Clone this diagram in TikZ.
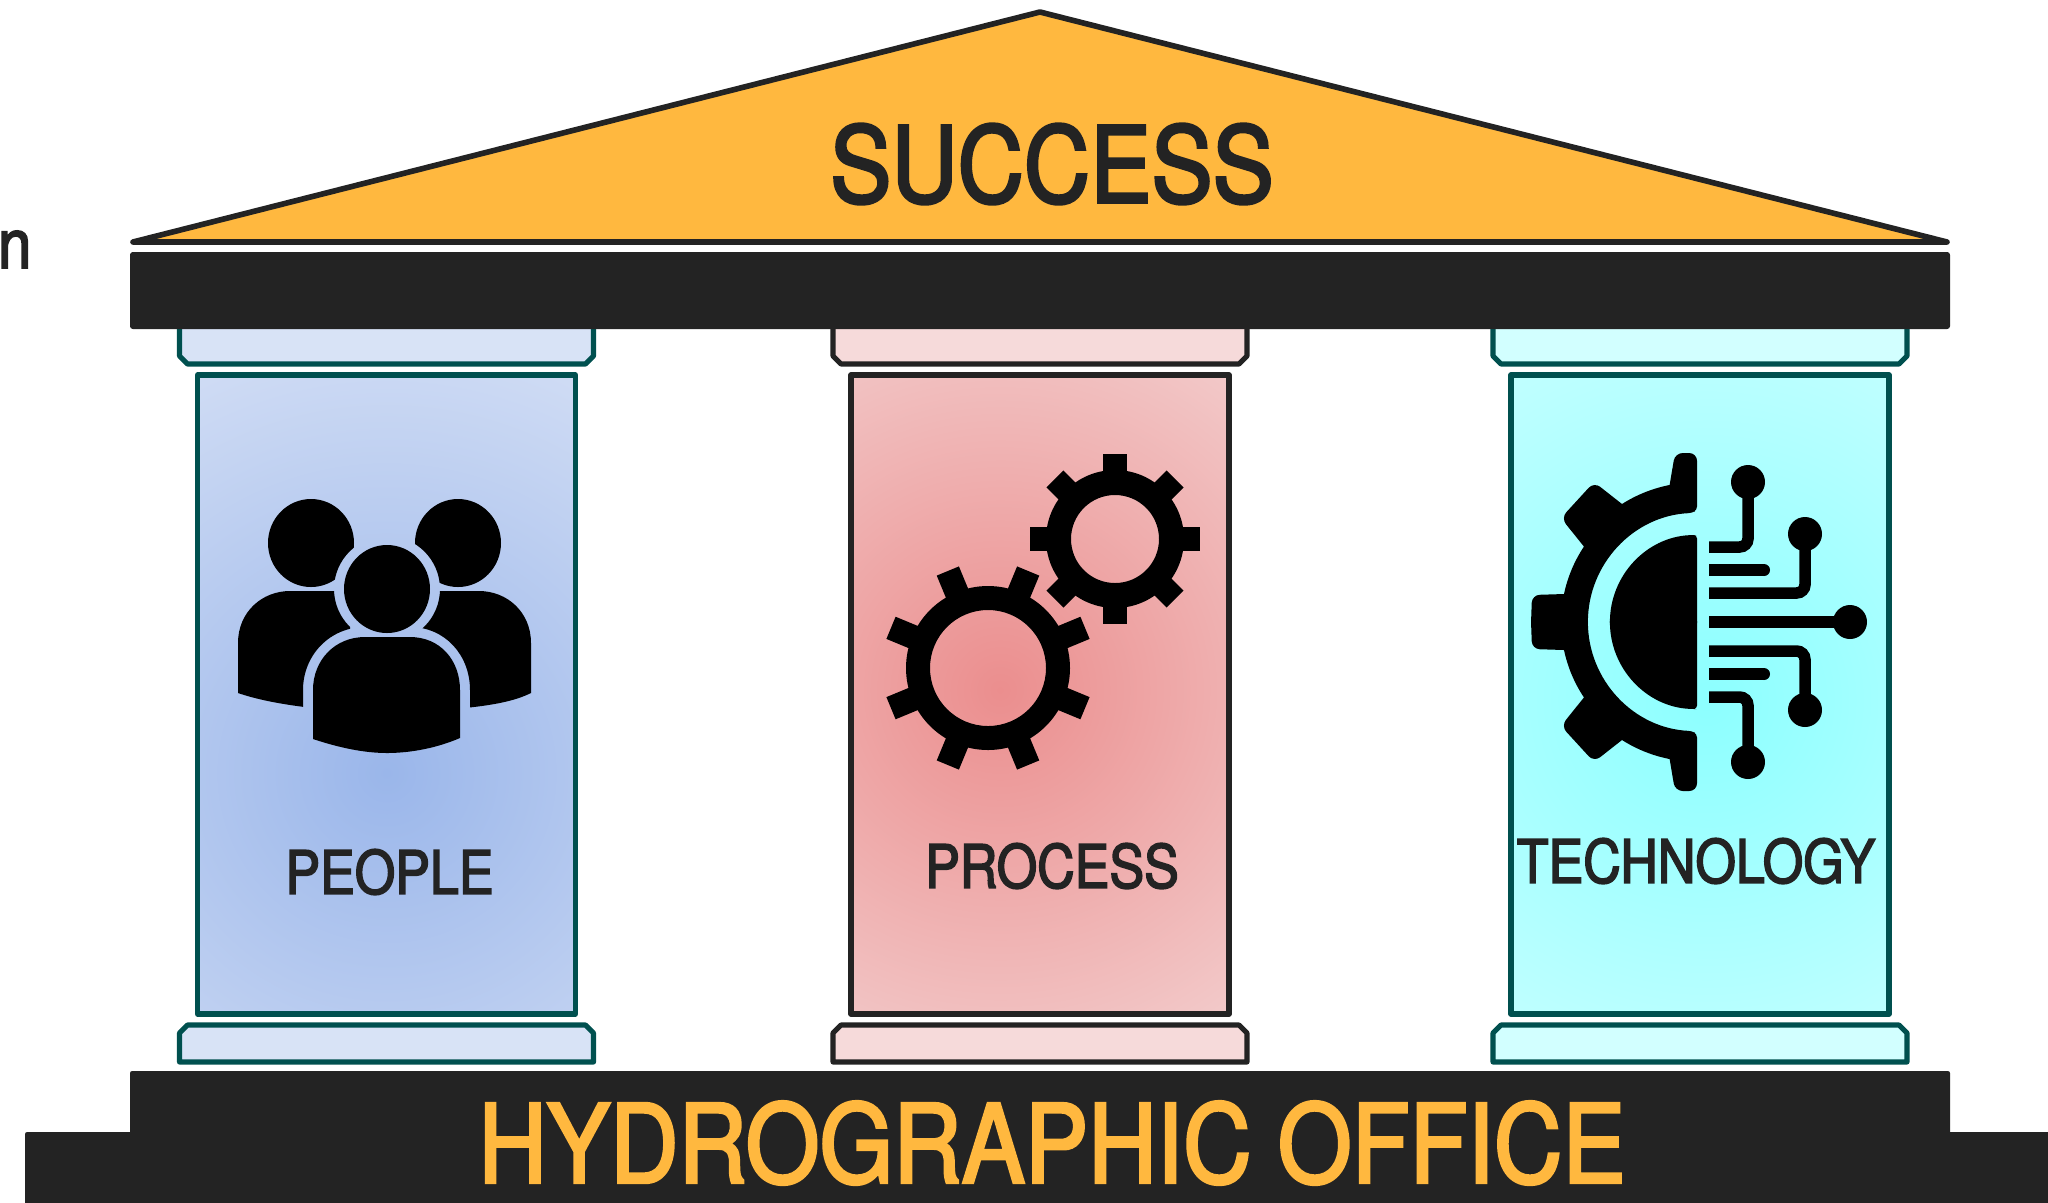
\documentclass[tikz,border=0pt]{standalone}
\usepackage{fontspec}
\setsansfont{TeX Gyre Heros}[FakeStretch=.87, FakeBold=2.6]
\usepackage{tikz}

\definecolor{inkdark}{HTML}{232323}
\definecolor{roofamber}{HTML}{FFB83F}
\definecolor{pillarteal}{HTML}{00504F}
\definecolor{peoplecap}{HTML}{D8E3F6}
\definecolor{processcap}{HTML}{F6DADA}
\definecolor{techcap}{HTML}{D2FFFF}
\definecolor{peopleinner}{RGB}{154,182,234}
\definecolor{peopleouter}{RGB}{212,223,245}
\definecolor{processinner}{RGB}{235,142,142}
\definecolor{processouter}{RGB}{244,214,214}
\definecolor{techinner}{RGB}{140,255,255}
\definecolor{techouter}{RGB}{206,255,255}

\pgfdeclareradialshading{peopleglow}{\pgfpointorigin}
    {color(0bp)=(peopleinner); color(30bp)=(peopleouter); color(50bp)=(peopleouter)}
\pgfdeclareradialshading{processglow}{\pgfpointorigin}
    {color(0bp)=(processinner); color(30bp)=(processouter); color(50bp)=(processouter)}
\pgfdeclareradialshading{techglow}{\pgfpointorigin}
    {color(0bp)=(techinner); color(30bp)=(techouter); color(50bp)=(techouter)}

\tikzset{
    pillarline/.style={line width=1.45pt, line join=round},
    trace/.style={draw=black, line width=.115cm, rounded corners=2.4pt},
    pillarlabel/.style={font=\sffamily\fontsize{17}{18}\selectfont, text=inkdark},
}

\begin{document}
\begin{tikzpicture}
    [font=\sffamily, x=.01cm, y=-.01cm]
    \useasboundingbox (0, 0) rectangle (2048, 1202);

    % Pillars
    \foreach \sc / \col / \line / \sx / \gx / \gy / \txt / \lx / \ly in
             {people/peoplecap/pillarteal/386.5/386.5/773/PEOPLE/389.5/872,
              process/processcap/inkdark/1040/1000/690/PROCESS/1052/866,
              tech/techcap/pillarteal/1700/1707/700/TECHNOLOGY/1696/861} {
        \begin{scope}[shift={(\sx, 0)}]
            % Capital
            \draw[pillarline, draw=\line, fill=\col]
                (-207, 325) -- (-207, 356) -- (-199, 364) -- (199, 364) --
                (207, 356) -- (207, 325) -- cycle;
            % Base
            \draw[pillarline, draw=\line, fill=\col]
                (-207, 1062) -- (-207, 1033) -- (-199, 1025) -- (199, 1025) --
                (207, 1033) -- (207, 1062) -- cycle;
        \end{scope}
        % Shaft
        \begin{scope}
            \clip (\sx-189, 375) rectangle (\sx+189, 1014);
            \shade[shading=\sc glow] (\gx-400, \gy-400) rectangle (\gx+400, \gy+400);
        \end{scope}
        \draw[pillarline, draw=\line] (\sx-189, 375) rectangle (\sx+189, 1014);
        \node[pillarlabel] (\sc label) at (\lx, \ly) {\txt};
    }

    % Roof
    \draw[line width=1.6pt, line join=round, draw=inkdark, fill=roofamber]
        (133, 242) -- (1040, 12) -- (1947, 242) -- cycle;
    \node[font=\sffamily\fontsize{30}{30}\selectfont, text=inkdark] (success) at (1052, 164) {SUCCESS};

    % Beam and steps
    \fill[inkdark, rounded corners=.8pt] (130, 252) rectangle (1950, 329);
    \fill[inkdark, rounded corners=.6pt]
        (130, 1210) -- (130, 1071) -- (1950, 1071) -- (1950, 1210) -- cycle;
    \fill[inkdark, rounded corners=.6pt] (25, 1210) -- (25, 1132) -- (140, 1132) -- (140, 1210) -- cycle;
    \fill[inkdark] (1940, 1132) rectangle (2060, 1210);
    \node[font=\sffamily\fontsize{31}{31}\selectfont, text=roofamber] (office) at (1052, 1143) {HYDROGRAPHIC OFFICE};

    % Cut-off word at the left edge
    \node[anchor=base east, inner sep=0pt, font=\sffamily\fontsize{19.6}{20}\selectfont, text=inkdark]
        (edgeword) at (32, 268) {n};

    % People icon
    \begin{scope}[even odd rule]
        \clip (0, 0) rectangle (2048, 1202) (387, 589) circle (53);
        \clip (0, 0) rectangle (2048, 1202)
            (303, 780) -- (303, 690) .. controls (303, 655) and (330, 627) .. (365, 627) --
            (410, 627) .. controls (445, 627) and (470, 655) .. (470, 690) -- (470, 780) -- cycle;
        \fill[black] (311, 543) circle (43 and 44);
        \fill[black] (458, 543) circle (43 and 44);
        % Back bodies
        \fill[black] (238, 693) -- (238, 643) .. controls (238, 612) and (262, 591) .. (290, 591) --
            (350, 591) -- (350, 712) .. controls (310, 708) and (270, 704) .. (238, 693) -- cycle;
        \fill[black] (531, 693) -- (531, 643) .. controls (531, 612) and (507, 591) .. (479, 591) --
            (420, 591) -- (420, 712) .. controls (465, 708) and (505, 706) .. (531, 693) -- cycle;
    \end{scope}
    \fill[black] (387, 589) circle (43 and 44);
    \fill[black] (313, 739) -- (313, 690) .. controls (313, 660) and (335, 637) .. (365, 637) --
        (410, 637) .. controls (440, 637) and (460, 660) .. (460, 690) -- (460, 738)
        .. controls (432, 750) and (405, 753) .. (387, 753)
        .. controls (365, 753) and (340, 748) .. (313, 739) -- cycle;

    % Process icon
    \foreach \gearx / \geary / \outr / \innr / \tipr / \twist in
             {1115/539/69/44/85/0, 988/668/82/58/105/22.5} {
        \begin{scope}[shift={(\gearx, \geary)}]
            \fill[black, even odd rule] (0, 0) circle (\outr) (0, 0) circle (\innr);
            \foreach \ang in {0, 45, ..., 315} {
                \fill[black, rotate=\ang+\twist] (\outr-4, -12) rectangle (\tipr, 12);
            }
        \end{scope}
    }

    % Technology icon, one half and its mirror image
    \foreach \flip in {1, -1} {
        \begin{scope}[shift={(1697, 622)}, y=.01cm, yscale=\flip]
            % Half gear
            \fill[black]
                (-166, -1) [rounded corners=2.2pt] -- (-165, 27)
                [sharp corners] -- (-133, 28) arc (168.1:146.3:1.36cm)
                [rounded corners=2.2pt] -- (-136, 104) -- (-103, 140)
                [sharp corners] -- (-75, 118) arc (122.4:101.15:1.39cm)
                [rounded corners=2.2pt] -- (-22, 169) -- (0, 169)
                [rounded corners=1pt] -- (0, 112) -- (-5, 109)
                [sharp corners] arc (92.6:180:1.09cm) -- (-109, -1) -- cycle;
            % Half disc
            \fill[black] (0, -1) [rounded corners=1pt] -- (0, 87) -- (-4, 87)
                [sharp corners] arc (92.6:180:.87cm) -- (-87, -1) -- cycle;
            % Traces
            \draw[trace] (12, 75) -- (51, 75) -- (51, 140);
            \fill[black] (51, 140) circle (17);
            \draw[trace] (12, 29) -- (108, 29) -- (108, 88);
            \fill[black] (108, 88) circle (17);
            \draw[trace] (12, 52) -- (67, 52);
            \fill[black] (67, 52) circle (6);
        \end{scope}
    }
    \begin{scope}[shift={(1697, 622)}]
        \draw[trace] (12, 0) -- (153, 0);
        \fill[black] (153, 0) circle (17);
    \end{scope}
\end{tikzpicture}
\end{document}
